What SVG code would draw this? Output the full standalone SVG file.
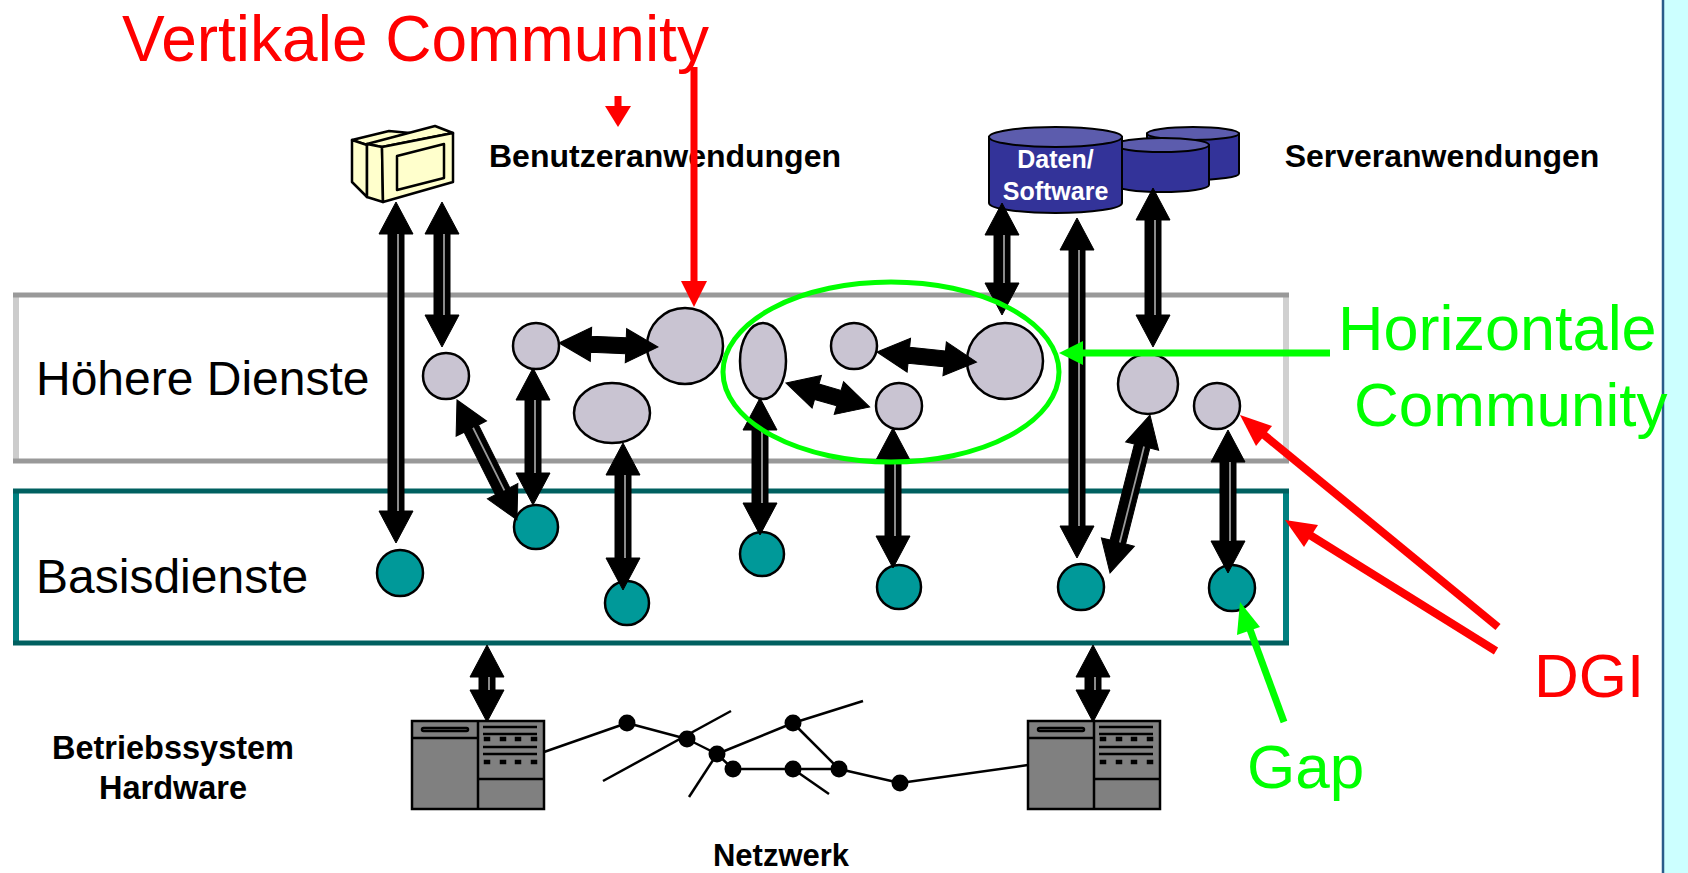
<svg xmlns="http://www.w3.org/2000/svg" width="1688" height="873" viewBox="0 0 1688 873">
<style>
.lbl{font-family:"Liberation Sans",Arial,sans-serif;font-weight:bold;font-size:32px;fill:#000}
.big{font-family:"Liberation Sans",Arial,sans-serif;font-size:48px;fill:#000}
.red{font-family:"Liberation Sans",Arial,sans-serif;font-size:63px;fill:#FF0000}
.grn{font-family:"Liberation Sans",Arial,sans-serif;font-size:63px;fill:#00FF00}
.gc{fill:#C9C4D2;stroke:#000;stroke-width:2.5}
.tc{fill:#009999;stroke:#000;stroke-width:2.5}
.arw polygon{fill:#000;stroke:#000;stroke-width:1;stroke-linejoin:miter}
.arw line{stroke:#9A9A9A;stroke-width:1.8}
.net line{stroke:#000;stroke-width:2.5}
.net circle{fill:#000}
.srv rect,.srv line{stroke:#000;stroke-width:2.5}
.cyl path{fill:#333399;stroke:#000;stroke-width:2}
.cyl ellipse{fill:#5C5CAD;stroke:#000;stroke-width:2}
.comp polygon{fill:#FFFFCC;stroke:#000;stroke-width:2.5;stroke-linejoin:round}
</style>

<g id="sidebar">
<rect x="1663" y="0" width="25" height="873" fill="#CCFFFF"/>
<line x1="1663" y1="0" x2="1663" y2="873" stroke="#2A5C8A" stroke-width="2.5"/>
</g>

<g id="band-hoehere">
<rect x="16" y="295" width="1270" height="166" fill="#FFFFFF"/>
<line x1="16" y1="295" x2="16" y2="461" stroke="#CCCCCC" stroke-width="6"/>
<line x1="1286" y1="295" x2="1286" y2="461" stroke="#D0D0D0" stroke-width="6"/>
<line x1="13" y1="295" x2="1289" y2="295" stroke="#999999" stroke-width="5"/>
<line x1="13" y1="461" x2="1289" y2="461" stroke="#999999" stroke-width="5"/>
<text class="big" x="36" y="395">Höhere Dienste</text>
</g>

<g id="band-basis">
<rect x="16" y="491" width="1270" height="152" fill="#FFFFFF"/>
<line x1="16" y1="491" x2="16" y2="643" stroke="#008080" stroke-width="6"/>
<line x1="1286" y1="491" x2="1286" y2="643" stroke="#008080" stroke-width="6"/>
<line x1="13" y1="491" x2="1289" y2="491" stroke="#006060" stroke-width="5"/>
<line x1="13" y1="643" x2="1289" y2="643" stroke="#006060" stroke-width="5"/>
<text class="big" x="36" y="593">Basisdienste</text>
</g>

<g id="computer" class="comp">
<polygon points="352,140 389,131 410,133 367,145"/>
<polygon points="352,140 367,145 367,197 352,182"/>
<polygon points="367,144 435,126 453,133 382,147"/>
<polygon points="367,144 382,147 383,202 367,197"/>
<polygon points="382,147 453,133 453,182 383,202"/>
<polygon points="397,156 444,144 444,178 397,190"/>
</g>

<g id="databases" class="cyl">
<g id="db3">
<path d="M1147,133.5 L1147,173.5 A46,6.5 0 0 0 1239,173.5 L1239,133.5 Z"/>
<ellipse cx="1193" cy="133.5" rx="46" ry="6.5"/>
</g>
<g id="db2">
<path d="M1115,145 L1115,185 A47,7 0 0 0 1209,185 L1209,145 Z"/>
<ellipse cx="1162" cy="145" rx="47" ry="7"/>
</g>
<g id="db1">
<path d="M989,137 L989,203 A66.5,10 0 0 0 1122,203 L1122,137 Z"/>
<ellipse cx="1055.5" cy="137" rx="66.5" ry="10"/>
<text x="1055.5" y="168" text-anchor="middle" style="font-family:'Liberation Sans',Arial,sans-serif;font-weight:bold;font-size:25px;fill:#FFFFFF">Daten/</text>
<text x="1055.5" y="200" text-anchor="middle" style="font-family:'Liberation Sans',Arial,sans-serif;font-weight:bold;font-size:25px;fill:#FFFFFF">Software</text>
</g>
</g>

<g id="labels">
<text class="lbl" x="665" y="167" text-anchor="middle">Benutzeranwendungen</text>
<text class="lbl" x="1442" y="167" text-anchor="middle">Serveranwendungen</text>
<text class="lbl" x="173" y="759" text-anchor="middle" style="font-size:32.5px">Betriebssystem</text>
<text class="lbl" x="173" y="799" text-anchor="middle" style="font-size:32.5px">Hardware</text>
<text class="lbl" x="781" y="866" text-anchor="middle" style="font-size:31px">Netzwerk</text>
</g>

<g id="servers" class="srv">
<g id="server-left" transform="translate(412,721)">
<rect x="0" y="0" width="132" height="88" fill="#808080"/>
<line x1="66" y1="0" x2="66" y2="88"/>
<line x1="0" y1="17" x2="66" y2="17"/>
<rect x="10" y="7" width="46" height="3" rx="1.5" fill="#808080" stroke-width="2"/>
<line x1="71" y1="6" x2="125" y2="6" stroke-width="3"/>
<line x1="71" y1="13" x2="125" y2="13" stroke-width="3"/>
<line x1="71" y1="26" x2="125" y2="26" stroke-width="3"/>
<line x1="71" y1="33" x2="125" y2="33" stroke-width="3"/>
<rect x="73" y="17" width="4" height="2" fill="#000" stroke-width="1.5"/>
<rect x="89" y="17" width="4" height="2" fill="#000" stroke-width="1.5"/>
<rect x="104" y="17" width="4" height="2" fill="#000" stroke-width="1.5"/>
<rect x="120" y="17" width="4" height="2" fill="#000" stroke-width="1.5"/>
<rect x="73" y="40" width="4" height="2" fill="#000" stroke-width="1.5"/>
<rect x="89" y="40" width="4" height="2" fill="#000" stroke-width="1.5"/>
<rect x="104" y="40" width="4" height="2" fill="#000" stroke-width="1.5"/>
<rect x="120" y="40" width="4" height="2" fill="#000" stroke-width="1.5"/>
<line x1="66" y1="58" x2="132" y2="58"/>
</g>
<g id="server-right" transform="translate(1028,721)">
<rect x="0" y="0" width="132" height="88" fill="#808080"/>
<line x1="66" y1="0" x2="66" y2="88"/>
<line x1="0" y1="17" x2="66" y2="17"/>
<rect x="10" y="7" width="46" height="3" rx="1.5" fill="#808080" stroke-width="2"/>
<line x1="71" y1="6" x2="125" y2="6" stroke-width="3"/>
<line x1="71" y1="13" x2="125" y2="13" stroke-width="3"/>
<line x1="71" y1="26" x2="125" y2="26" stroke-width="3"/>
<line x1="71" y1="33" x2="125" y2="33" stroke-width="3"/>
<rect x="73" y="17" width="4" height="2" fill="#000" stroke-width="1.5"/>
<rect x="89" y="17" width="4" height="2" fill="#000" stroke-width="1.5"/>
<rect x="104" y="17" width="4" height="2" fill="#000" stroke-width="1.5"/>
<rect x="120" y="17" width="4" height="2" fill="#000" stroke-width="1.5"/>
<rect x="73" y="40" width="4" height="2" fill="#000" stroke-width="1.5"/>
<rect x="89" y="40" width="4" height="2" fill="#000" stroke-width="1.5"/>
<rect x="104" y="40" width="4" height="2" fill="#000" stroke-width="1.5"/>
<rect x="120" y="40" width="4" height="2" fill="#000" stroke-width="1.5"/>
<line x1="66" y1="58" x2="132" y2="58"/>
</g>
</g>

<g id="network" class="net">
<line x1="544" y1="752" x2="627" y2="723"/>
<line x1="627" y1="723" x2="687" y2="739"/>
<line x1="603" y1="781" x2="731" y2="711"/>
<line x1="687" y1="739" x2="717" y2="754"/>
<line x1="717" y1="754" x2="793" y2="723"/>
<line x1="717" y1="754" x2="689" y2="797"/>
<line x1="717" y1="754" x2="733" y2="769"/>
<line x1="793" y1="723" x2="863" y2="701"/>
<line x1="793" y1="723" x2="839" y2="769"/>
<line x1="733" y1="769" x2="839" y2="769"/>
<line x1="793" y1="769" x2="829" y2="794"/>
<line x1="839" y1="769" x2="900" y2="783"/>
<line x1="900" y1="783" x2="1028" y2="765"/>
<circle cx="627" cy="723" r="8.5"/>
<circle cx="687" cy="739" r="8.5"/>
<circle cx="717" cy="754" r="8.5"/>
<circle cx="733" cy="769" r="8.5"/>
<circle cx="793" cy="723" r="8.5"/>
<circle cx="793" cy="769" r="8.5"/>
<circle cx="839" cy="769" r="8.5"/>
<circle cx="900" cy="783" r="8.5"/>
</g>

<g id="nodes-higher">
<circle id="g1" class="gc" cx="446" cy="376" r="23"/>
<circle id="g2" class="gc" cx="536" cy="346" r="23"/>
<circle id="g3" class="gc" cx="685" cy="346" r="38"/>
<ellipse id="e1" class="gc" cx="612" cy="413" rx="38" ry="30"/>
<ellipse id="e2" class="gc" cx="763" cy="361" rx="23" ry="38"/>
<circle id="g4" class="gc" cx="854" cy="346" r="23"/>
<circle id="g5" class="gc" cx="899" cy="406" r="23"/>
<circle id="g6" class="gc" cx="1005" cy="361" r="38"/>
<circle id="g7" class="gc" cx="1148" cy="384" r="30"/>
<circle id="g8" class="gc" cx="1217" cy="406" r="23"/>
</g>

<g id="nodes-basis">
<circle id="t1" class="tc" cx="400" cy="573" r="23"/>
<circle id="t2" class="tc" cx="536" cy="527" r="22"/>
<circle id="t3" class="tc" cx="627" cy="603" r="22"/>
<circle id="t4" class="tc" cx="762" cy="554" r="22"/>
<circle id="t5" class="tc" cx="899" cy="587" r="22"/>
<circle id="t6" class="tc" cx="1081" cy="587" r="23"/>
<circle id="t7" class="tc" cx="1232" cy="588" r="23"/>
</g>

<g id="connectors" class="arw">
<g transform="translate(396,202) rotate(90)"><polygon points="0,0 32,-17 32,-8 309,-8 309,-17 341,0 309,17 309,8 32,8 32,17"/><line x1="32" y1="-2" x2="309" y2="-2"/></g>
<g transform="translate(442,202) rotate(90)"><polygon points="0,0 32,-17 32,-8 113,-8 113,-17 145,0 113,17 113,8 32,8 32,17"/><line x1="32" y1="-2" x2="113" y2="-2"/></g>
<g transform="translate(457,400) rotate(63.43)"><polygon points="0,0 32,-17 32,-8 102,-8 102,-17 134,0 102,17 102,8 32,8 32,17"/><line x1="32" y1="-2" x2="102" y2="-2"/></g>
<g transform="translate(533,368) rotate(90)"><polygon points="0,0 32,-17 32,-8 105,-8 105,-17 137,0 105,17 105,8 32,8 32,17"/><line x1="32" y1="-2" x2="105" y2="-2"/></g>
<g transform="translate(559,343) rotate(2.31)"><polygon points="0,0 32,-17 32,-8 67,-8 67,-17 99,0 67,17 67,8 32,8 32,17"/></g>
<g transform="translate(623,443) rotate(90)"><polygon points="0,0 32,-17 32,-8 115,-8 115,-17 147,0 115,17 115,8 32,8 32,17"/><line x1="32" y1="-2" x2="115" y2="-2"/></g>
<g transform="translate(760,398) rotate(90)"><polygon points="0,0 32,-17 32,-8 105,-8 105,-17 137,0 105,17 105,8 32,8 32,17"/><line x1="32" y1="-2" x2="105" y2="-2"/></g>
<g transform="translate(786,383) rotate(15.95)"><polygon points="0,0 32,-17 32,-8 55,-8 55,-17 87,0 55,17 55,8 32,8 32,17"/></g>
<g transform="translate(877,352) rotate(5.77)"><polygon points="0,0 32,-17 32,-8 68,-8 68,-17 100,0 68,17 68,8 32,8 32,17"/></g>
<g transform="translate(893,428) rotate(90)"><polygon points="0,0 32,-17 32,-8 108,-8 108,-17 140,0 108,17 108,8 32,8 32,17"/><line x1="32" y1="-2" x2="108" y2="-2"/></g>
<g transform="translate(1002,203) rotate(90)"><polygon points="0,0 32,-17 32,-8 80,-8 80,-17 112,0 80,17 80,8 32,8 32,17"/><line x1="32" y1="-2" x2="80" y2="-2"/></g>
<g transform="translate(1077,218) rotate(90)"><polygon points="0,0 32,-17 32,-8 308,-8 308,-17 340,0 308,17 308,8 32,8 32,17"/><line x1="32" y1="-2" x2="308" y2="-2"/></g>
<g transform="translate(1153,188) rotate(90)"><polygon points="0,0 32,-17 32,-8 127,-8 127,-17 159,0 127,17 127,8 32,8 32,17"/><line x1="32" y1="-2" x2="127" y2="-2"/></g>
<g transform="translate(1150,415) rotate(104.2)"><polygon points="0,0 32,-17 32,-8 131,-8 131,-17 163,0 131,17 131,8 32,8 32,17"/><line x1="32" y1="-2" x2="131" y2="-2"/></g>
<g transform="translate(1228,430) rotate(90)"><polygon points="0,0 32,-17 32,-8 111,-8 111,-17 143,0 111,17 111,8 32,8 32,17"/><line x1="32" y1="-2" x2="111" y2="-2"/></g>
<g transform="translate(487,645) rotate(90)"><polygon points="0,0 32,-17 32,-8 45,-8 45,-17 77,0 45,17 45,8 32,8 32,17"/><line x1="32" y1="-2" x2="45" y2="-2"/></g>
<g transform="translate(1093,645) rotate(90)"><polygon points="0,0 32,-17 32,-8 45,-8 45,-17 77,0 45,17 45,8 32,8 32,17"/><line x1="32" y1="-2" x2="45" y2="-2"/></g>
</g>

<g id="horizontal-community">
<ellipse cx="891" cy="372" rx="168" ry="90" fill="none" stroke="#00FF00" stroke-width="5"/>
<line x1="1330" y1="353" x2="1078" y2="353" stroke="#00FF00" stroke-width="7"/>
<polygon points="1059,353 1083,341 1083,365" fill="#00FF00"/>
<text class="grn" x="1338" y="350">Horizontale</text>
<text class="grn" x="1354" y="426" style="font-size:62px">Community</text>
</g>

<g id="vertical-community">
<text class="red" x="122" y="61" style="font-size:64px">Vertikale Community</text>
<line x1="618" y1="96" x2="618" y2="110" stroke="#FF0000" stroke-width="7"/>
<polygon points="618,127 605,106 631,106" fill="#FF0000"/>
<line x1="694" y1="67" x2="694" y2="284" stroke="#FF0000" stroke-width="7"/>
<polygon points="694,307 681,281 707,281" fill="#FF0000"/>
</g>

<g id="dgi">
<text class="red" x="1534" y="697" style="font-size:62px">DGI</text>
<line x1="1498" y1="627" x2="1258" y2="430" stroke="#FF0000" stroke-width="8"/>
<polygon points="1240,415 1272,426 1256,446" fill="#FF0000"/>
<line x1="1496" y1="651" x2="1305" y2="532" stroke="#FF0000" stroke-width="8"/>
<polygon points="1285,520 1318,525 1304,547" fill="#FF0000"/>
</g>

<g id="gap">
<text class="grn" x="1247" y="788" style="font-size:62px">Gap</text>
<line x1="1284" y1="722" x2="1248" y2="624" stroke="#00FF00" stroke-width="7"/>
<polygon points="1240,602 1260,627 1237,635" fill="#00FF00"/>
</g>
</svg>
